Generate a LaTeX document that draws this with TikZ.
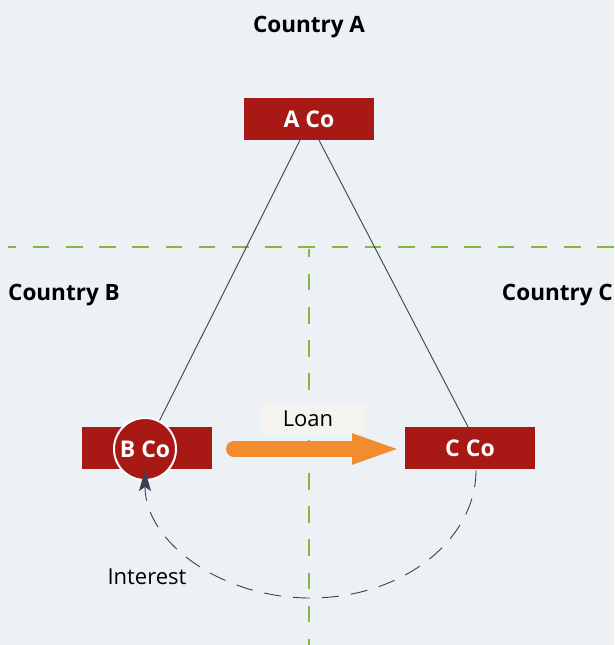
\documentclass[tikz,border=0pt]{standalone}
\usepackage{fontspec}
\setmainfont{Open Sans}
\usetikzlibrary{arrows.meta}

\definecolor{bgBlue}{HTML}{ECF1F6}
\definecolor{coRed}{HTML}{A81916}
\definecolor{borderGreen}{HTML}{8DB43E}
\definecolor{lineGrey}{HTML}{3A4150}
\definecolor{loanOrange}{HTML}{F28C2E}
\definecolor{labelFill}{HTML}{F4F3EF}

\tikzset{
  company/.style={fill=coRed, text=white, inner sep=0pt,
    minimum width=130pt, minimum height=42pt,
    font=\bfseries\fontsize{23}{26}\selectfont},
  country/.style={inner sep=0pt, font=\bfseries\fontsize{22.5}{26}\selectfont},
  label/.style={inner sep=0pt, font=\fontsize{22}{26}\selectfont},
  border/.style={borderGreen, line width=2.6pt,
    dash pattern=on 16.6pt off 16.6pt, dash phase=8.4pt},
  owns/.style={lineGrey, line width=0.9pt},
}

\begin{document}
\begin{tikzpicture}[x=1pt,y=-1pt]
  \fill[bgBlue] (0,0) rectangle (614,645);
  \useasboundingbox (0,0) rectangle (614,645);

  % borders between the countries
  \coordinate (bleft) at (8,247);
  \coordinate (bright) at (614,247);
  \coordinate (btop) at (309,249);
  \coordinate (bbottom) at (309,645);
  \draw[border] (bleft) -- (bright);
  \draw[border] (btop) -- (bbottom);

  \node[country, anchor=base] (cA) at (309,32) {Country A};
  \node[country, anchor=base west] (cB) at (8,300) {Country B};
  \node[country, anchor=base east] (cC) at (613,300) {Country C};

  % companies
  \node[company] (aco) at (309,119) {A Co};
  \node[company] (bbox) at (147,448) {};
  \node[company] (cco) at (470,448) {C Co};
  \node[company, circle, draw=white, line width=2pt, minimum size=62pt]
    (bco) at (145,449) {B Co};

  % ownership
  \draw[owns] ([xshift=-9pt]aco.south) -- (bco.63);
  \draw[owns] ([xshift=10pt]aco.south) -- ([xshift=-2pt]cco.north);

  % loan
  \node[fill=labelFill, minimum width=104pt, minimum height=30pt]
    (loanbox) at (314,419) {};
  \node[label] (loan) at (308,419) {Loan};
  \coordinate (lstart) at (234,449);
  \coordinate (lend) at (402,449);
  \draw[loanOrange, line width=16pt, line cap=round,
    -{Triangle[length=50pt, width=27pt]}] (lstart) -- (lend);

  % interest
  \coordinate (istart) at (476,470);
  \draw[lineGrey, line width=0.9pt, dash pattern=on 17pt off 12pt,
    -{Stealth[length=21pt, width=12pt, inset=4pt]}]
    (istart) arc[start angle=0, end angle=180, x radius=165.5, y radius=128];
  \node[label, anchor=base] (interest) at (147,584) {Interest};
\end{tikzpicture}
\end{document}
